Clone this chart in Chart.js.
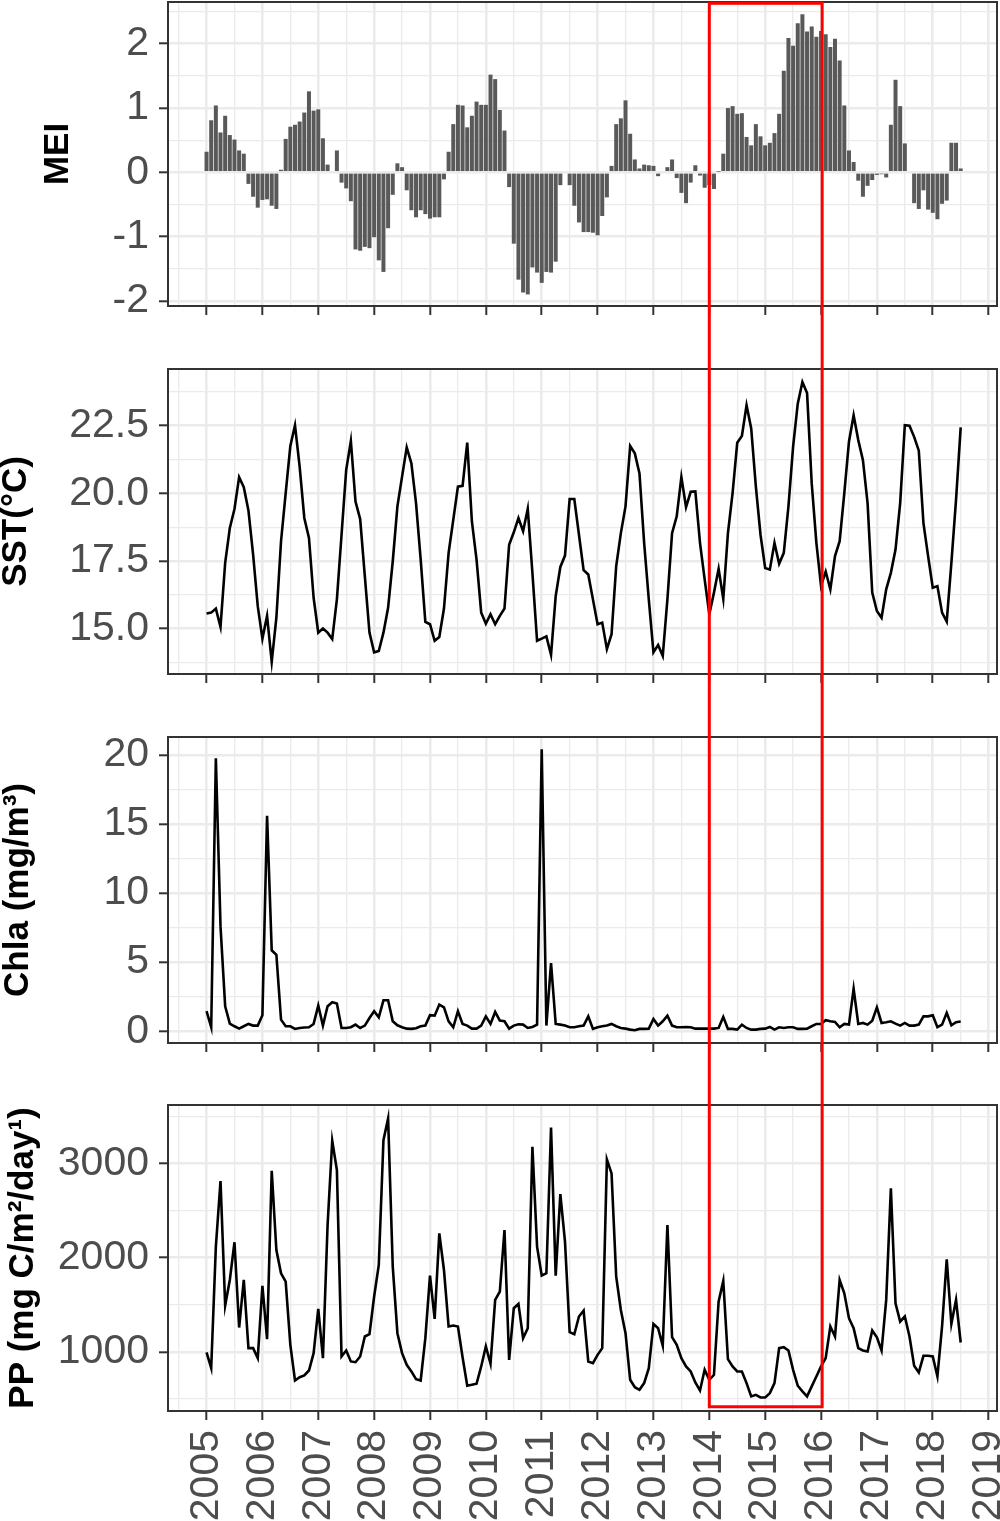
<!DOCTYPE html>
<html>
<head>
<meta charset="utf-8">
<title>MEI, SST, Chla and PP, 2005-2018</title>
<script src="https://cdn.jsdelivr.net/npm/chart.js@4.4.1/dist/chart.umd.min.js"></script>
<style>
  html, body { margin: 0; padding: 0; background: #fff; }
  #wrap { position: relative; width: 1000px; height: 1521px; overflow: hidden; }
  #wrap canvas { position: absolute; left: 0; top: 0; }
</style>
</head>
<body>
<div id="wrap">
  <canvas id="cMei"  width="1000" height="1521"></canvas>
  <canvas id="cSst"  width="1000" height="1521"></canvas>
  <canvas id="cChla" width="1000" height="1521"></canvas>
  <canvas id="cPp"   width="1000" height="1521"></canvas>
</div>
<script>
(function () {
  'use strict';

  // ── Data: monthly values, Jan 2005 – Jul 2018 ─────────────────────────────
  var START_YEAR = 2005;

  var mei = [
    0.32, 0.81, 1.04, 0.62, 0.88, 0.58, 0.51, 0.34, 0.29, -0.18, -0.38, -0.55,
    -0.43, -0.42, -0.52, -0.57, 0.04, 0.52, 0.71, 0.74, 0.79, 0.93, 1.26, 0.96,
    0.98, 0.53, 0.12, 0.02, 0.34, -0.16, -0.25, -0.45, -1.20, -1.22, -1.16, -1.18,
    -1.01, -1.37, -1.55, -0.87, -0.35, 0.14, 0.08, -0.28, -0.59, -0.70, -0.59, -0.65,
    -0.72, -0.70, -0.70, -0.11, 0.32, 0.75, 1.05, 1.04, 0.70, 0.88, 1.10, 1.05,
    1.05, 1.52, 1.45, 0.97, 0.65, -0.23, -1.11, -1.67, -1.87, -1.90, -1.48, -1.56,
    -1.72, -1.55, -1.56, -1.39, -0.20, 0.00, -0.20, -0.52, -0.78, -0.93, -0.93, -0.94,
    -0.98, -0.68, -0.39, 0.10, 0.75, 0.84, 1.12, 0.60, 0.20, 0.06, 0.12, 0.11,
    0.10, -0.06, -0.02, 0.08, 0.20, -0.09, -0.32, -0.48, -0.16, 0.11, -0.05, -0.24,
    -0.20, -0.26, 0.01, 0.29, 1.00, 1.03, 0.91, 0.92, 0.55, 0.42, 0.75, 0.56,
    0.42, 0.46, 0.61, 0.91, 1.58, 2.09, 1.97, 2.32, 2.46, 2.19, 2.27, 2.11,
    2.20, 2.15, 1.95, 2.08, 1.74, 1.04, 0.34, 0.16, -0.13, -0.38, -0.21, -0.12,
    -0.04, -0.03, -0.08, 0.74, 1.44, 1.03, 0.45, 0.00, -0.48, -0.57, -0.28, -0.58,
    -0.63, -0.73, -0.49, -0.44, 0.46, 0.46, 0.06
  ];

  var sst = [
    15.56, 15.59, 15.74, 15.06, 17.43, 18.72, 19.42, 20.60, 20.23, 19.37, 17.74, 15.83,
    14.63, 15.47, 13.77, 15.40, 18.23, 20.01, 21.75, 22.52, 20.99, 19.09, 18.35, 16.14,
    14.85, 15.00, 14.85, 14.61, 16.08, 18.47, 20.87, 21.94, 19.70, 19.05, 16.94, 14.85,
    14.12, 14.17, 14.85, 15.77, 17.49, 19.52, 20.62, 21.70, 21.11, 19.64, 17.55, 15.25,
    15.16, 14.55, 14.69, 15.74, 17.80, 19.02, 20.25, 20.28, 21.88, 18.96, 17.55, 15.59,
    15.18, 15.53, 15.16, 15.47, 15.74, 18.10, 18.56, 19.09, 18.60, 19.43, 17.06, 14.55,
    14.63, 14.71, 14.03, 16.20, 17.28, 17.70, 19.79, 19.79, 18.47, 17.16, 17.00, 16.08,
    15.16, 15.22, 14.24, 14.79, 17.31, 18.53, 19.52, 21.75, 21.48, 20.74, 18.17, 16.08,
    14.12, 14.39, 13.99, 16.08, 18.53, 19.15, 20.60, 19.49, 20.06, 20.07, 18.17, 16.82,
    15.53, 16.33, 17.21, 16.10, 18.53, 20.01, 21.87, 22.12, 23.26, 22.40, 20.25, 18.47,
    17.24, 17.18, 18.17, 17.40, 17.80, 19.52, 21.73, 23.32, 24.12, 23.71, 20.37, 18.17,
    16.58, 17.11, 16.45, 17.68, 18.23, 20.01, 21.91, 22.89, 21.97, 21.23, 19.64, 16.33,
    15.65, 15.40, 16.45, 17.06, 17.92, 19.64, 22.52, 22.50, 22.09, 21.58, 18.90, 17.68,
    16.51, 16.57, 15.59, 15.26, 17.43, 19.76, 22.44
  ];

  var chla = [
    1.45, 0.29, 19.76, 7.59, 1.81, 0.55, 0.36, 0.19, 0.36, 0.53, 0.41, 0.41,
    1.16, 15.59, 5.86, 5.54, 0.84, 0.36, 0.36, 0.17, 0.24, 0.27, 0.29, 0.53,
    1.86, 0.41, 1.81, 2.10, 2.00, 0.24, 0.24, 0.29, 0.48, 0.24, 0.41, 0.96,
    1.45, 1.01, 2.24, 2.24, 0.72, 0.43, 0.29, 0.19, 0.17, 0.22, 0.36, 0.41,
    1.16, 1.13, 1.93, 1.73, 0.72, 0.29, 1.45, 0.53, 0.41, 0.19, 0.19, 0.41,
    1.08, 0.53, 1.40, 0.77, 0.72, 0.19, 0.41, 0.51, 0.48, 0.24, 0.31, 0.48,
    20.41, 0.41, 4.94, 0.53, 0.48, 0.41, 0.29, 0.29, 0.36, 0.41, 1.08, 0.17,
    0.29, 0.36, 0.41, 0.53, 0.36, 0.24, 0.19, 0.12, 0.07, 0.17, 0.17, 0.19,
    0.89, 0.41, 0.72, 1.13, 0.41, 0.29, 0.29, 0.31, 0.29, 0.19, 0.19, 0.19,
    0.19, 0.19, 0.24, 1.04, 0.17, 0.17, 0.12, 0.48, 0.24, 0.12, 0.12, 0.17,
    0.19, 0.31, 0.12, 0.29, 0.24, 0.29, 0.29, 0.17, 0.17, 0.19, 0.36, 0.53,
    0.53, 0.80, 0.72, 0.67, 0.29, 0.53, 0.48, 3.08, 0.53, 0.60, 0.48, 0.77,
    1.73, 0.60, 0.65, 0.72, 0.55, 0.41, 0.60, 0.41, 0.41, 0.48, 1.08, 1.08,
    1.16, 0.29, 0.48, 1.33, 0.43, 0.65, 0.70
  ];

  var pp = [
    993, 827, 2117, 2813, 1491, 1763, 2163, 1258, 1763, 1039, 1039, 933,
    1700, 1134, 2922, 2081, 1834, 1746, 1074, 696, 731, 749, 802, 986,
    1456, 933, 2346, 3240, 2929, 951, 1014, 898, 890, 951, 1163, 1187,
    1587, 1922, 3247, 3477, 1905, 1198, 986, 862, 792, 710, 696, 1145,
    1809, 1350, 2258, 1869, 1269, 1279, 1269, 943, 640, 650, 661, 845,
    1057, 873, 1551, 1640, 2293, 915, 1463, 1509, 1145, 1251, 3177, 2117,
    1809, 1834, 3382, 1809, 2675, 2170, 1208, 1187, 1375, 1438, 898, 880,
    968, 1039, 3042, 2894, 1799, 1445, 1198, 703, 625, 597, 668, 827,
    1297, 1251, 1064, 2346, 1155, 1074, 933, 845, 792, 675, 590, 809,
    703, 756, 1534, 1753, 922, 845, 792, 792, 668, 527, 544, 516,
    516, 562, 668, 1039, 1049, 1014, 809, 640, 580, 527, 633, 739,
    845, 933, 1269, 1163, 1763, 1622, 1357, 1251, 1039, 1014, 1004, 1226,
    1155, 1014, 1551, 2735, 1516, 1322, 1375, 1163, 852, 781, 958, 958,
    951, 739, 1269, 1982, 1297, 1551, 1099
  ];

  // ── Tick labels ───────────────────────────────────────────────────────────
  var yearTicks = [2005, 2006, 2007, 2008, 2009, 2010, 2011, 2012,
                   2013, 2014, 2015, 2016, 2017, 2018, 2019];
  var meiTicks  = [-2, -1, 0, 1, 2];
  var sstTicks  = [15, 17.5, 20, 22.5];
  var chlaTicks = [0, 5, 10, 15, 20];
  var ppTicks   = [1000, 2000, 3000];

  // highlighted period (years) and its vertical reach (MEI top, PP bottom)
  var highlightYears = [2014, 2016.02];
  var highlightTopMei = 2.63;
  var highlightBottomPp = 417;

  // ── Styling / layout ─────────────────────────────────────────────────────
  var FONT = "'Liberation Sans', Arial, Helvetica, sans-serif";
  var GRID = '#EBEBEB';
  var INK  = '#333333';
  var TEXT = '#4D4D4D';
  var W = 1000, H = 1521;
  var PLOT_LEFT = 168, PLOT_RIGHT = 997;
  var X_MIN = 2004.31, X_MAX = 2019.15;
  var TICK_LEN = 9;
  var TICK_FONT = 41;

  function monthX(i) { return START_YEAR + i / 12; }

  function toPoints(arr) {
    return arr.map(function (v, i) { return { x: monthX(i), y: v }; });
  }

  // majors plus half-step minors that fall inside [lo, hi]
  function withMinors(majors, lo, hi) {
    var step = majors[1] - majors[0];
    var out = majors.slice();
    for (var k = -1; k < majors.length + 1; k++) {
      var v = majors[0] + (k + 0.5) * step;
      if (v >= lo && v <= hi) out.push(v);
    }
    return out.sort(function (a, b) { return a - b; });
  }

  function isMajorIn(majors) {
    return function (v) {
      for (var i = 0; i < majors.length; i++) {
        if (Math.abs(majors[i] - v) < 1e-9) return true;
      }
      return false;
    };
  }

  function gridOpts(isMajor) {
    return {
      offset: false,
      color: GRID,
      lineWidth: function (ctx) { return ctx.tick && isMajor(ctx.tick.value) ? 2.6 : 1.3; },
      drawTicks: true,
      tickLength: TICK_LEN,
      tickWidth: 2,
      tickColor: function (ctx) { return ctx.tick && isMajor(ctx.tick.value) ? INK : 'rgba(0,0,0,0)'; }
    };
  }

  var panelBorder = {
    id: 'panelBorder',
    afterDatasetsDraw: function (chart) {
      var a = chart.chartArea, c = chart.ctx;
      c.save();
      c.strokeStyle = INK;
      c.lineWidth = 2;
      c.strokeRect(a.left, a.top, a.right - a.left, a.bottom - a.top);
      c.restore();
    }
  };

  var meiChart = null;

  var highlightBox = {
    id: 'highlightBox',
    afterDraw: function (chart) {
      if (!meiChart) return;
      var x0 = chart.scales.x.getPixelForValue(highlightYears[0]);
      var x1 = chart.scales.x.getPixelForValue(highlightYears[1]);
      var y0 = meiChart.scales.y.getPixelForValue(highlightTopMei);
      var y1 = chart.scales.y.getPixelForValue(highlightBottomPp);
      var c = chart.ctx;
      c.save();
      c.strokeStyle = '#FF0000';
      c.lineWidth = 3;
      c.strokeRect(x0, y0, x1 - x0, y1 - y0);
      c.restore();
    }
  };

  var panels = [
    { id: 'cMei',  title: 'MEI',                 values: mei,  kind: 'bar',
      majors: meiTicks,  min: -2.08, max: 2.65, top: 2,    bottom: 306,
      titleShift: 41,  fmt: function (v) { return String(v); } },
    { id: 'cSst',  title: 'SST(\u00B0C)',         values: sst,  kind: 'line',
      majors: sstTicks,  min: 13.32, max: 24.6, top: 369,  bottom: 674,
      titleShift: -1,  fmt: function (v) { return v.toFixed(1); } },
    { id: 'cChla', title: 'Chla (mg/m\u00B3)',    values: chla, kind: 'line',
      majors: chlaTicks, min: -0.85, max: 21.3, top: 737,  bottom: 1043,
      titleShift: 0.5, fmt: function (v) { return String(v); } },
    { id: 'cPp',   title: 'PP (mg C/m\u00B2/day\u00B9)', values: pp, kind: 'line',
      majors: ppTicks,   min: 372,  max: 3620, top: 1105, bottom: 1411,
      titleShift: 5.5, fmt: function (v) { return String(v); } }
  ];

  var xAll = withMinors(yearTicks, X_MIN, X_MAX);
  var xMajor = isMajorIn(yearTicks);

  function makeChart(p, isLast) {
    var yAll = withMinors(p.majors, p.min, p.max);
    var yMajor = isMajorIn(p.majors);
    var xh = isLast ? H - p.bottom : 12;

    var ds = p.kind === 'bar'
      ? { data: toPoints(p.values), backgroundColor: '#595959', borderWidth: 0,
          barPercentage: 0.86, categoryPercentage: 1 }
      : { data: toPoints(p.values), borderColor: '#000000', borderWidth: 2.6,
          pointRadius: 0, tension: 0, fill: false };

    return new Chart(document.getElementById(p.id), {
      type: p.kind,
      data: { datasets: [ds] },
      options: {
        responsive: false,
        animation: false,
        devicePixelRatio: 1,
        layout: { padding: { left: 0, right: W - PLOT_RIGHT, top: p.top, bottom: H - p.bottom - xh } },
        plugins: { legend: { display: false }, tooltip: { enabled: false } },
        scales: {
          x: {
            type: 'linear',
            offset: false,
            min: X_MIN,
            max: X_MAX,
            afterBuildTicks: function (s) { s.ticks = xAll.map(function (v) { return { value: v }; }); },
            afterFit: function (s) { s.height = xh; s.paddingLeft = 0; s.paddingRight = 0; },
            grid: gridOpts(xMajor),
            border: { display: false },
            ticks: {
              display: isLast,
              autoSkip: false,
              minRotation: 90,
              maxRotation: 90,
              padding: 10,
              color: TEXT,
              font: { family: FONT, size: TICK_FONT },
              callback: function (v) { return xMajor(v) ? String(v) : ''; }
            }
          },
          y: {
            type: 'linear',
            min: p.min,
            max: p.max,
            afterBuildTicks: function (s) { s.ticks = yAll.map(function (v) { return { value: v }; }); },
            afterFit: function (s) { s.width = PLOT_LEFT; s.paddingTop = 0; s.paddingBottom = 0; },
            grid: gridOpts(yMajor),
            border: { display: false },
            ticks: {
              autoSkip: false,
              padding: 10,
              color: TEXT,
              font: { family: FONT, size: TICK_FONT },
              callback: function (v) { return yMajor(v) ? p.fmt(v) : ''; }
            },
            title: {
              display: true,
              text: p.title,
              color: '#000000',
              font: { family: FONT, size: 35, weight: 'bold', lineHeight: 1 },
              padding: { top: p.titleShift, bottom: 0 }
            }
          }
        }
      },
      plugins: isLast ? [panelBorder, highlightBox] : [panelBorder]
    });
  }

  panels.forEach(function (p, i) {
    var chart = makeChart(p, i === panels.length - 1);
    if (i === 0) meiChart = chart;
  });
}());
</script>
</body>
</html>
